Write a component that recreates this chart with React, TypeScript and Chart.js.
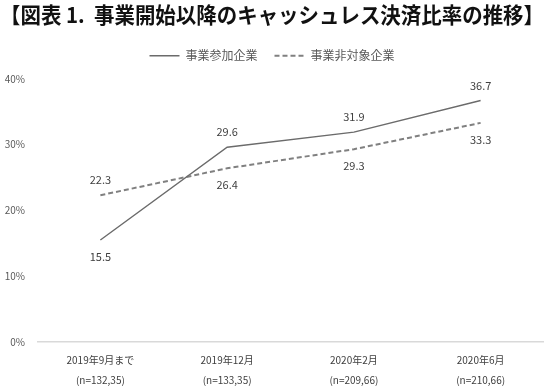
import React, { useEffect, useRef } from "react";
import { Chart, registerables } from "chart.js";

Chart.register(...registerables);

const categories: string[][] = [
  ["2019年9月まで", "(n=132,35)"],
  ["2019年12月", "(n=133,35)"],
  ["2020年2月", "(n=209,66)"],
  ["2020年6月", "(n=210,66)"],
];
const participants: number[] = [15.5, 29.6, 31.9, 36.7];
const nonTarget: number[] = [22.3, 26.4, 29.3, 33.3];
const seriesNames: string[] = ["事業参加企業", "事業非対象企業"];
const labelAbove: boolean[][] = [
  [false, true, true, true],
  [true, false, false, false],
];
const titleText = "【図表 1.  事業開始以降のキャッシュレス決済比率の推移】";

const FONT = "'Noto Sans CJK JP', 'Noto Sans', sans-serif";

const valueLabels = {
  id: "valueLabels",
  afterDatasetsDraw(chart: any) {
    const ctx = chart.ctx;
    ctx.save();
    ctx.font = `11px ${FONT}`;
    ctx.fillStyle = "#404040";
    ctx.textAlign = "center";
    ctx.textBaseline = "middle";
    chart.data.datasets.forEach((ds: any, di: number) => {
      const meta = chart.getDatasetMeta(di);
      meta.data.forEach((pt: any, i: number) => {
        const above = labelAbove[di][i];
        const y = above ? pt.y - 15 : pt.y + 17;
        ctx.fillText(ds.data[i].toFixed(1), pt.x, y);
      });
    });
    ctx.restore();
  },
};

const legendSpacer = {
  id: "legendSpacer",
  beforeLayout(chart: any) {
    const l = chart.legend;
    if (!l || l._spacerPatched) return;
    const orig = l.fit;
    l.fit = function (this: any) {
      orig.call(this);
      this.height += 7;
    };
    l._spacerPatched = true;
  },
};

export default function App() {
  const ref = useRef<HTMLCanvasElement>(null);
  useEffect(() => {
    if (!ref.current) return;
    const chart = new Chart(ref.current, {
      type: "line",
      data: {
        labels: categories,
        datasets: [
          {
            label: seriesNames[0],
            data: participants,
            borderColor: "#6b6b6b",
            borderWidth: 1.4,
            pointRadius: 0,
            pointStyle: "line",
            tension: 0,
          },
          {
            label: seriesNames[1],
            data: nonTarget,
            borderColor: "#808080",
            borderWidth: 2,
            borderDash: [5, 3],
            pointRadius: 0,
            pointStyle: "line",
            tension: 0,
          },
        ],
      },
      options: {
        animation: false,
        responsive: false,
        maintainAspectRatio: false,
        layout: { padding: { left: 0, right: 0, top: 0, bottom: 0 } },
        plugins: {
          title: {
            display: true,
            text: titleText,
            color: "#111",
            font: { family: FONT, size: 21.5, weight: "bold" },
            padding: { top: 2, bottom: 5 },
          },
          legend: {
            display: true,
            labels: {
              usePointStyle: true,
              pointStyleWidth: 30,
              boxHeight: 8,
              color: "#595959",
              font: { family: FONT, size: 12 },
              padding: 17,
              generateLabels: (ch: any) => {
                const items = Chart.defaults.plugins.legend.labels.generateLabels(ch);
                return items.map((it: any) => {
                  const ds: any = ch.data.datasets[it.datasetIndex];
                  return {
                    ...it,
                    pointStyle: "line",
                    lineDash: ds.borderDash || [],
                    lineWidth: ds.borderWidth,
                    strokeStyle: ds.borderColor,
                  };
                });
              },
            },
          },
          tooltip: { enabled: false },
        },
        scales: {
          x: {
            offset: true,
            grid: { display: false, drawTicks: false },
            border: { display: false },
            afterFit: (scale: any) => {
              scale.height = 44;
            },
            ticks: {
              color: "#404040",
              font: { family: FONT, size: 10, lineHeight: 2 },
              padding: 8,
              maxRotation: 0,
              autoSkip: false,
            },
          },
          y: {
            min: 0,
            max: 40,
            afterFit: (scale: any) => {
              scale.width = 37;
            },
            ticks: {
              stepSize: 10,
              color: "#595959",
              font: { family: FONT, size: 10 },
              padding: 12,
              callback: (v: any) => `${v}%`,
            },
            grid: {
              drawTicks: false,
              color: (c: any) => (c.tick && c.tick.value === 0 ? "#d9d9d9" : "rgba(0,0,0,0)"),
              lineWidth: 1.5,
            },
            border: { display: false },
          },
        },
      },
      plugins: [valueLabels, legendSpacer],
    });
    return () => chart.destroy();
  }, []);
  return (
    <div style={{ position: "absolute", left: 0, top: 0, width: 544, height: 386, background: "#fff" }}>
      <canvas ref={ref} width={544} height={386} style={{ width: 544, height: 386 }} />
    </div>
  );
}
